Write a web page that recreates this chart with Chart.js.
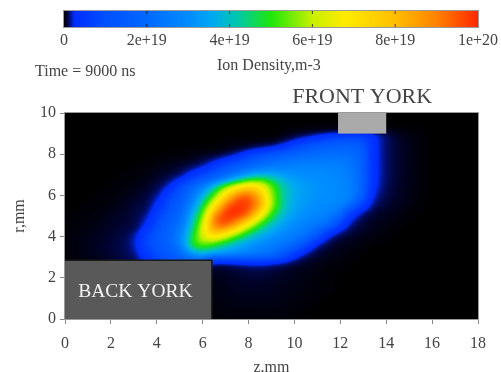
<!DOCTYPE html>
<html>
<head>
<meta charset="utf-8">
<script src="https://cdn.jsdelivr.net/npm/chart.js@4.4.1/dist/chart.umd.min.js"></script>
<style>
  html, body { margin: 0; padding: 0; background: #fff; }
</style>
</head>
<body>
<canvas id="ion-map" width="501" height="372"></canvas>
<script>
// ion density map at t = 9000 ns, values in 1e19 m-3
const zGrid = [0, 0.5, 1, 1.5, 2, 2.5, 3, 3.5, 4, 4.5, 5, 5.5, 6, 6.5, 7, 7.5, 8, 8.5, 9, 9.5,
  10, 10.5, 11, 11.5, 12, 12.5, 13, 13.5, 14, 14.5, 15, 15.5, 16, 16.5, 17, 17.5, 18];
// rows go from top (r = 10) to bottom (r = 0)
const rGrid = [10, 9.5, 9, 8.5, 8, 7.5, 7, 6.5, 6, 5.5, 5, 4.5, 4, 3.5, 3, 2.5, 2, 1.5, 1, 0.5, 0];
const ionDensity = [
  [0,0,0,0,0,0,0,0,0,0, 0,0,0,0,0,0,0,0,0,0, 0,0,0,0,0,0,0,0,0,0, 0,0,0,0,0,0,0],
  [0,0,0,0,0,0,0,0,0,0, 0,0,0,0,0,0,0,0,0,0, 0,0,0,0,0,0,0,0,0,0, 0,0,0,0,0,0,0],
  [0,0,0,0,0,0,0,0,0,0, 0,0,0,0,0,0,0,0,0,0.02, 0.05,0.1,0.2,0.35,0.5,0.6,0.5,0.3,0.12,0.05, 0.02,0.01,0,0,0,0,0],
  [0,0,0,0,0,0,0,0,0,0, 0,0,0,0,0.01,0.02,0.04,0.07,0.12,0.25, 0.6,1.0,1.3,1.5,1.6,1.6,1.3,0.3,0.12,0.06, 0.03,0.015,0,0,0,0,0],
  [0,0,0,0,0,0,0,0,0,0.01, 0.01,0.02,0.04,0.07,0.12,0.25,0.7,1.1,1.4,1.7, 1.9,2.0,2.1,2.2,2.2,2.1,1.6,0.3,0.12,0.06, 0.03,0.015,0,0,0,0,0],
  [0,0,0,0,0,0,0,0.01,0.02,0.03, 0.05,0.08,0.15,0.4,0.9,1.3,1.7,2.0,2.3,2.5, 2.6,2.7,2.7,2.7,2.6,2.3,1.7,0.3,0.12,0.06, 0.03,0.015,0,0,0,0,0],
  [0,0,0,0,0,0.01,0.01,0.02,0.04,0.07, 0.12,0.4,0.9,1.4,2.1,2.9,3.6,4.0,3.8,3.4, 3.1,3.0,3.0,2.9,2.8,2.5,1.8,0.3,0.12,0.06, 0.03,0.015,0,0,0,0,0],
  [0,0,0,0,0.01,0.01,0.02,0.04,0.08,0.2, 0.9,1.8,2.6,4.0,5.4,6.4,7.2,6.8,5.4,4.2, 3.6,3.3,3.1,3.0,2.9,2.6,1.8,0.28,0.11,0.05, 0.03,0.015,0,0,0,0,0],
  [0,0,0,0.01,0.01,0.02,0.04,0.07,0.15,0.7, 1.3,2.3,3.8,5.4,7.4,9.3,9.6,8.2,5.8,4.3, 3.6,3.3,3.1,3.0,2.9,2.7,1.7,0.2,0.09,0.05, 0.025,0.01,0,0,0,0,0],
  [0,0,0.01,0.01,0.02,0.04,0.07,0.08,0.35,1.0, 1.6,3.0,4.8,7.0,9.5,10,9.8,8.8,5.9,4.3, 3.5,3.2,3.0,2.9,2.8,2.2,0.6,0.12,0.06,0.035, 0.02,0.01,0,0,0,0,0],
  [0,0.01,0.01,0.02,0.04,0.05,0.07,0.15,0.7,1.3, 2.0,3.7,5.6,9.2,10,10,9.3,6.8,4.9,3.9, 3.3,3.0,2.8,2.6,2.0,0.35,0.1,0.05,0.03,0.02, 0.01,0,0,0,0,0,0],
  [0.01,0.01,0.02,0.03,0.05,0.06,0.08,0.3,1.0,1.6, 2.4,4.1,6.4,9.2,9.5,8.2,6.2,4.8,3.9,3.3, 2.9,2.6,2.3,2.0,0.6,0.12,0.06,0.03,0.02,0.01, 0,0,0,0,0,0,0],
  [0.01,0.02,0.03,0.04,0.06,0.08,0.18,0.8,1.3,1.8, 2.8,4.7,6.4,7.2,6.3,5.1,4.2,3.6,3.2,2.8, 2.5,2.2,1.4,0.25,0.08,0.05,0.03,0.02,0.01,0, 0,0,0,0,0,0,0],
  [0.01,0.02,0.03,0.05,0.07,0.09,0.18,0.7,1.2,1.6, 2.6,4.9,5.2,4.6,4.0,3.5,3.1,2.8,2.5,2.2, 1.9,0.8,0.15,0.06,0.03,0.02,0.01,0,0,0, 0,0,0,0,0,0,0],
  [0.01,0.02,0.03,0.04,0.06,0.08,0.12,0.4,0.9,1.2, 1.8,2.6,3.2,3.0,2.8,2.6,2.4,2.2,2.0,1.2, 0.35,0.1,0.05,0.03,0.02,0.01,0,0,0,0, 0,0,0,0,0,0,0],
  [0,0.01,0.01,0.02,0.03,0.05,0.08,0.15,0.3,0.5, 0.7,0.8,0.6,0.04,0.05,0.07,0.09,0.1,0.08,0.06, 0.04,0.03,0.02,0.01,0.01,0,0,0,0,0, 0,0,0,0,0,0,0],
  [0,0,0.01,0.01,0.02,0.03,0.05,0.08,0.12,0.18, 0.2,0.2,0.15,0.03,0.04,0.05,0.06,0.06,0.05,0.04, 0.03,0.02,0.01,0.01,0,0,0,0,0,0, 0,0,0,0,0,0,0],
  [0,0,0,0.01,0.01,0.02,0.03,0.05,0.08,0.1, 0.1,0.1,0.08,0.02,0.03,0.04,0.04,0.04,0.04,0.03, 0.02,0.02,0.01,0.01,0,0,0,0,0,0, 0,0,0,0,0,0,0],
  [0,0,0,0,0.01,0.01,0.02,0.03,0.05,0.06, 0.06,0.06,0.05,0.02,0.02,0.03,0.03,0.03,0.03,0.02, 0.02,0.01,0.01,0,0,0,0,0,0,0, 0,0,0,0,0,0,0],
  [0,0,0,0,0,0.01,0.01,0.02,0.03,0.04, 0.04,0.04,0.03,0.01,0.02,0.02,0.02,0.02,0.02,0.02, 0.01,0.01,0,0,0,0,0,0,0,0, 0,0,0,0,0,0,0],
  [0,0,0,0,0,0,0.01,0.01,0.02,0.02, 0.02,0.02,0.02,0.01,0.01,0.01,0.01,0.01,0.01,0.01, 0.01,0,0,0,0,0,0,0,0,0, 0,0,0,0,0,0,0]
];

// colour scale (value in 1e19 -> rgb)
const cmapStops = [0, 0.05, 0.12, 0.25, 1.0, 2.0, 3.0, 3.6, 4.2, 5.0, 6.0, 6.8, 8.0, 9.0, 10];
const cmapColors = [[0,0,0],[0,2,40],[0,12,105],[0,45,255],[0,80,255],[0,105,255],[0,140,255],[0,170,240],[0,200,170],
  [30,230,10],[200,240,0],[255,235,0],[255,190,0],[255,130,0],[255,40,0]];
const cbarTicks = [0, 2, 4, 6, 8, 10];
const cbarLabels = ['0', '2e+19', '4e+19', '6e+19', '8e+19', '1e+20'];

// electrode blocks, in mm
const frontYork = { z0: 11.9, z1: 14.0, r0: 9.0, r1: 10 };
const backYork = { z0: 0, z1: 6.4, r0: 0, r1: 2.85 };

const serif = "'Liberation Serif', 'DejaVu Serif', serif";

function colorFor(v) {
  if (v <= cmapStops[0]) return cmapColors[0];
  for (let i = 1; i < cmapStops.length; i++) {
    if (v <= cmapStops[i]) {
      const t = (v - cmapStops[i-1]) / (cmapStops[i] - cmapStops[i-1]);
      const a = cmapColors[i-1], b = cmapColors[i];
      return [a[0]+(b[0]-a[0])*t, a[1]+(b[1]-a[1])*t, a[2]+(b[2]-a[2])*t];
    }
  }
  return cmapColors[cmapColors.length-1];
}

// log of density between grid nodes (density falls off roughly exponentially)
function logDensityAt(z, r) {
  const nz = zGrid.length, nr = rGrid.length;
  let fi = (z - zGrid[0]) / (zGrid[nz-1] - zGrid[0]) * (nz - 1);
  let fj = (rGrid[0] - r) / (rGrid[0] - rGrid[nr-1]) * (nr - 1);
  fi = Math.min(Math.max(fi, 0), nz - 1.0001);
  fj = Math.min(Math.max(fj, 0), nr - 1.0001);
  const i = Math.floor(fi), j = Math.floor(fj);
  const tx = fi - i, ty = fj - j;
  const L = v => Math.log(Math.max(v, 0.003));
  const top = L(ionDensity[j][i]) * (1-tx) + L(ionDensity[j][i+1]) * tx;
  const bot = L(ionDensity[j+1][i]) * (1-tx) + L(ionDensity[j+1][i+1]) * tx;
  return top * (1-ty) + bot * ty;
}

// box blur, a few passes ~ gaussian, to get rid of the grid steps
function smooth(f, w, h, rad, passes) {
  let src = f, dst = new Float32Array(w * h);
  for (let p = 0; p < passes; p++) {
    for (let y = 0; y < h; y++) {
      for (let x = 0; x < w; x++) {
        let s = 0, n = 0;
        for (let k = -rad; k <= rad; k++) {
          const xx = x + k;
          if (xx < 0 || xx >= w) continue;
          s += src[y*w + xx]; n++;
        }
        dst[y*w + x] = s / n;
      }
    }
    [src, dst] = [dst, src];
    for (let x = 0; x < w; x++) {
      for (let y = 0; y < h; y++) {
        let s = 0, n = 0;
        for (let k = -rad; k <= rad; k++) {
          const yy = y + k;
          if (yy < 0 || yy >= h) continue;
          s += src[yy*w + x]; n++;
        }
        dst[y*w + x] = s / n;
      }
    }
    [src, dst] = [dst, src];
  }
  return src;
}

const heatmapPlugin = {
  id: 'heatmap',
  beforeDatasetsDraw(chart) {
    const {ctx, chartArea: a, scales: {x, y}} = chart;
    const w = Math.round(a.right - a.left), h = Math.round(a.bottom - a.top);
    const field = new Float32Array(w * h);
    for (let py = 0; py < h; py++) {
      const r = y.getValueForPixel(a.top + py + 0.5);
      for (let px = 0; px < w; px++) {
        field[py*w + px] = logDensityAt(x.getValueForPixel(a.left + px + 0.5), r);
      }
    }
    const sm = smooth(field, w, h, 3, 3);
    const img = ctx.createImageData(w, h);
    for (let k = 0; k < w * h; k++) {
      const v = Math.exp(sm[k]);
      const c = colorFor(v < 0.004 ? 0 : v);
      img.data[k*4] = c[0]; img.data[k*4+1] = c[1]; img.data[k*4+2] = c[2]; img.data[k*4+3] = 255;
    }
    ctx.putImageData(img, Math.round(a.left), Math.round(a.top));

    // electrodes
    const box = (b, fill) => {
      const x0 = x.getPixelForValue(b.z0), x1 = x.getPixelForValue(b.z1);
      const y0 = y.getPixelForValue(b.r1), y1 = y.getPixelForValue(b.r0);
      ctx.fillStyle = fill;
      ctx.fillRect(x0, y0, x1 - x0, y1 - y0);
      return {x0, x1, y0, y1};
    };
    ctx.save();
    const fy = box(frontYork, '#aaaaaa');
    const by = box(backYork, '#595959');
    ctx.strokeStyle = '#1a1a1a';
    ctx.lineWidth = 1.5;
    ctx.beginPath();
    ctx.moveTo(by.x0, by.y0); ctx.lineTo(by.x1, by.y0); ctx.lineTo(by.x1, by.y1);
    ctx.stroke();

    ctx.fillStyle = '#f2f2f2';
    ctx.font = '19.5px ' + serif;
    ctx.textAlign = 'center';
    ctx.textBaseline = 'middle';
    ctx.fillText('BACK YORK', (by.x0 + by.x1) / 2 - 3, (by.y0 + by.y1) / 2 + 2);

    ctx.fillStyle = '#444';
    ctx.font = '22px ' + serif;
    ctx.fillText('FRONT YORK', (fy.x0 + fy.x1) / 2, a.top - 16);

    // frame
    ctx.strokeStyle = '#9a9a9a';
    ctx.lineWidth = 1;
    ctx.strokeRect(a.left - 0.5, a.top - 0.5, a.right - a.left + 1, a.bottom - a.top + 1);
    ctx.restore();
  },
  afterDraw(chart) {
    const {ctx} = chart;
    ctx.save();
    // colour bar
    const cx0 = 64, cx1 = 478, cy0 = 11, cy1 = 27;
    for (let px = cx0; px < cx1; px++) {
      const c = colorFor((px - cx0 + 0.5) / (cx1 - cx0) * 10);
      ctx.fillStyle = 'rgb(' + c.map(Math.round).join(',') + ')';
      ctx.fillRect(px, cy0, 1, cy1 - cy0);
    }
    ctx.strokeStyle = '#999';
    ctx.lineWidth = 1;
    ctx.strokeRect(cx0 - 0.5, cy0 - 0.5, cx1 - cx0 + 1, cy1 - cy0 + 1);
    ctx.fillStyle = '#444';
    ctx.font = '16px ' + serif;
    ctx.textAlign = 'center';
    ctx.textBaseline = 'middle';
    cbarTicks.forEach((v, i) => {
      const px = cx0 + v / 10 * (cx1 - cx0);
      if (i > 0 && i < cbarTicks.length - 1) {
        ctx.strokeStyle = 'rgba(0,0,0,0.7)';
        ctx.beginPath();
        ctx.moveTo(px, cy0); ctx.lineTo(px, cy0 + 3);
        ctx.moveTo(px, cy1); ctx.lineTo(px, cy1 - 3);
        ctx.stroke();
      }
      ctx.fillText(cbarLabels[i], px, 41);
    });
    ctx.textAlign = 'left';
    ctx.fillText('Time = 9000 ns', 35, 72);
    ctx.fillText('Ion Density,m-3', 217, 66);
    ctx.restore();
  }
};

const cells = [];
rGrid.forEach((r, j) => zGrid.forEach((z, i) => cells.push({x: z, y: r, v: ionDensity[j][i]})));

const tickFont = { family: serif, size: 16 };

new Chart(document.getElementById('ion-map').getContext('2d'), {
  type: 'scatter',
  data: {
    datasets: [{
      label: 'Ion Density',
      data: cells,
      pointRadius: 0,
      showLine: false
    }]
  },
  options: {
    responsive: false,
    animation: false,
    devicePixelRatio: 1,
    events: [],
    layout: { padding: { top: 113, right: 23, left: 0, bottom: 0 } },
    plugins: {
      legend: { display: false },
      tooltip: { enabled: false }
    },
    scales: {
      x: {
        type: 'linear',
        min: 0, max: 18,
        afterFit: s => { s.height = 53; },
        ticks: { stepSize: 2, font: tickFont, color: '#444', padding: 10 },
        grid: { drawOnChartArea: false, tickLength: 5, color: '#888' },
        border: { color: '#888' },
        title: { display: true, text: 'z,mm', font: { family: serif, size: 16 }, color: '#444', padding: { top: 0, bottom: -5 } }
      },
      y: {
        type: 'linear',
        min: 0, max: 10,
        afterFit: s => { s.width = 65; },
        ticks: { stepSize: 2, font: tickFont, color: '#444', padding: 4 },
        grid: { drawOnChartArea: false, tickLength: 5, color: '#888' },
        border: { color: '#888' },
        title: { display: true, text: 'r,mm', font: { family: serif, size: 16 }, color: '#444', padding: { top: 10, bottom: 0 } }
      }
    }
  },
  plugins: [heatmapPlugin]
});
</script>
</body>
</html>
